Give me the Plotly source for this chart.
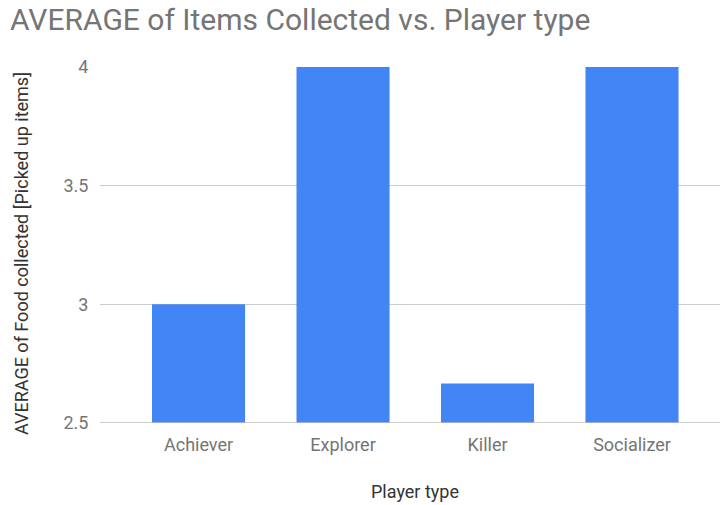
import plotly.graph_objects as go

categories = ["Achiever", "Explorer", "Killer", "Socializer"]
values = [3.0, 4.0, 2.6667, 4.0]
y_ticks = [2.5, 3, 3.5, 4]
y_tick_labels = ["2.5", "3", "3.5", "4"]

fig = go.Figure()
fig.add_trace(go.Bar(x=categories, y=values, marker=dict(color="#4285F4", line=dict(width=0)),
                     width=0.644))

fig.update_layout(
    width=720, height=505,
    margin=dict(l=100, r=0, t=67, b=82),
    paper_bgcolor="white", plot_bgcolor="white",
    font=dict(family="Roboto", color="#757575"),
    title=dict(text="AVERAGE of Items Collected vs. Player type", x=0.014, xanchor="left",
               y=0.962, yanchor="middle", font=dict(size=30, color="#757575", family="Roboto")),
    showlegend=False,
)
fig.update_xaxes(
    range=[-0.682, 3.609], showgrid=False, zeroline=False, showline=False,
    tickfont=dict(size=18, color="#757575"), ticks="outside", ticklen=5, tickcolor="rgba(0,0,0,0)",
)
fig.update_yaxes(
    range=[2.5, 4], tickvals=y_ticks, ticktext=y_tick_labels, showgrid=True, gridcolor="#cccccc",
    gridwidth=1, zeroline=False, showline=False,
    tickfont=dict(size=18, color="#757575"), ticks="outside", ticklen=7, tickcolor="rgba(0,0,0,0)",
)
fig.add_annotation(text="Player type", xref="paper", yref="paper", x=(415 - 100) / 620,
                   y=-(491 - 423) / 356, xanchor="center", yanchor="middle", showarrow=False,
                   font=dict(size=18, color="#333333", family="Roboto"))
fig.add_annotation(text="AVERAGE of Food collected [Picked up items]", xref="paper", yref="paper",
                   x=(21.5 - 100) / 620, y=(423 - 253.5) / 356, xanchor="center", yanchor="middle",
                   textangle=-90, showarrow=False,
                   font=dict(size=18, color="#333333", family="Roboto"))
fig.add_shape(type="line", xref="paper", yref="y", x0=0, x1=1, y0=2.5, y1=2.5,
              line=dict(color="#bdbdbd", width=1.5), layer="above")
fig.write_html("out.html")
